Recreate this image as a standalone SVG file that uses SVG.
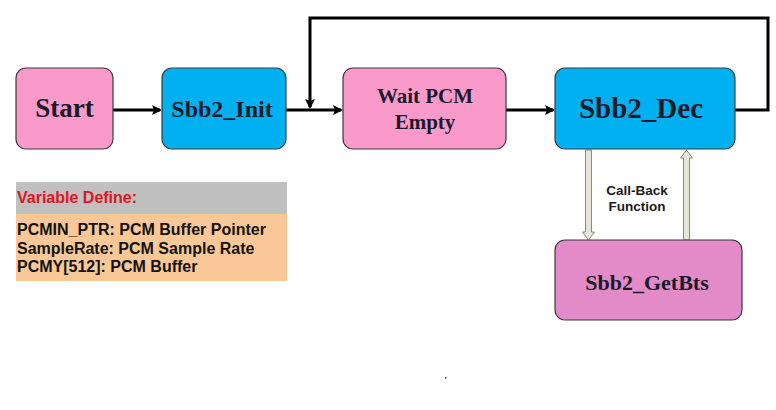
<svg xmlns="http://www.w3.org/2000/svg" width="776" height="410" viewBox="0 0 776 410">
<style>
.box{stroke:#3a3a3a;stroke-width:1.2}
.pink{fill:#FA9ACB}
.blue{fill:#00B0F0}
.mag{fill:#E38AC8}
.lbl{font-family:"Liberation Serif","Times New Roman",serif;font-weight:bold;fill:#1a1a2a;text-anchor:middle}
.conn{stroke:#000;stroke-width:3;fill:none}
.hollow{fill:#E6E6D8;stroke:#8A8A7A;stroke-width:1}
.var{font-family:"Liberation Sans",Arial,sans-serif;font-weight:bold;font-size:16px}
</style>
<defs>
<marker id="ah" markerWidth="10" markerHeight="10" refX="8" refY="5" orient="auto" markerUnits="userSpaceOnUse">
<path d="M0,0 L10,5 L0,10 L2,5 Z" fill="#000"/>
</marker>
</defs>
<rect width="776" height="410" fill="#fff"/>
<g id="connectors">
<line class="conn" x1="113" y1="110" x2="160" y2="110" marker-end="url(#ah)"/>
<line class="conn" x1="286" y1="110" x2="341" y2="110" marker-end="url(#ah)"/>
<line class="conn" x1="506" y1="110" x2="553" y2="110" marker-end="url(#ah)"/>
<polyline class="conn" points="735,110 768,110 768,18 310,18 310,107" marker-end="url(#ah)"/>
<path class="hollow" d="M585.5,150 L591.5,150 L591.5,232 L594.5,232 L588.5,240 L582.5,232 L585.5,232 Z"/>
<path class="hollow" d="M683.5,240 L689.5,240 L689.5,158 L692.5,158 L686.5,150 L680.5,158 L683.5,158 Z"/>
<text x="637" y="195" text-anchor="middle" font-family="Liberation Sans,Arial,sans-serif" font-weight="bold" font-size="13.5" fill="#1a1a1a">Call-Back</text>
<text x="637" y="211" text-anchor="middle" font-family="Liberation Sans,Arial,sans-serif" font-weight="bold" font-size="13.5" fill="#1a1a1a">Function</text>
</g>
<g id="start">
<rect class="box pink" x="16" y="68" width="97" height="81" rx="10"/>
<text class="lbl" x="64.5" y="117" font-size="27">Start</text>
</g>
<g id="sbb2_init">
<rect class="box blue" x="162" y="68" width="124" height="81" rx="10"/>
<text class="lbl" x="222" y="117" font-size="24">Sbb2_Init</text>
</g>
<g id="wait_pcm">
<rect class="box pink" x="343" y="68" width="163" height="81" rx="10"/>
<text class="lbl" x="425" y="103" font-size="21">Wait PCM</text>
<text class="lbl" x="425" y="129" font-size="21">Empty</text>
</g>
<g id="sbb2_dec">
<rect class="box blue" x="555" y="68" width="180" height="81" rx="10"/>
<text class="lbl" x="641" y="118" font-size="29">Sbb2_Dec</text>
</g>
<g id="sbb2_getbts">
<rect class="box mag" x="555" y="240" width="187" height="80" rx="10"/>
<text class="lbl" x="647" y="290" font-size="22">Sbb2_GetBts</text>
</g>
<g id="variables">
<rect x="16" y="182" width="271" height="32" fill="#C0C0C0"/>
<rect x="16" y="214" width="271" height="67" fill="#FAC896"/>
<text class="var" x="17" y="203" fill="#E0141E">Variable Define:</text>
<text class="var" x="17" y="235" fill="#111">PCMIN_PTR: PCM Buffer Pointer</text>
<text class="var" x="17" y="254" fill="#111">SampleRate: PCM Sample Rate</text>
<text class="var" x="17" y="272" fill="#111">PCMY[512]: PCM Buffer</text>
</g>
<rect x="445" y="377" width="1.5" height="1.5" fill="#333"/>
</svg>
